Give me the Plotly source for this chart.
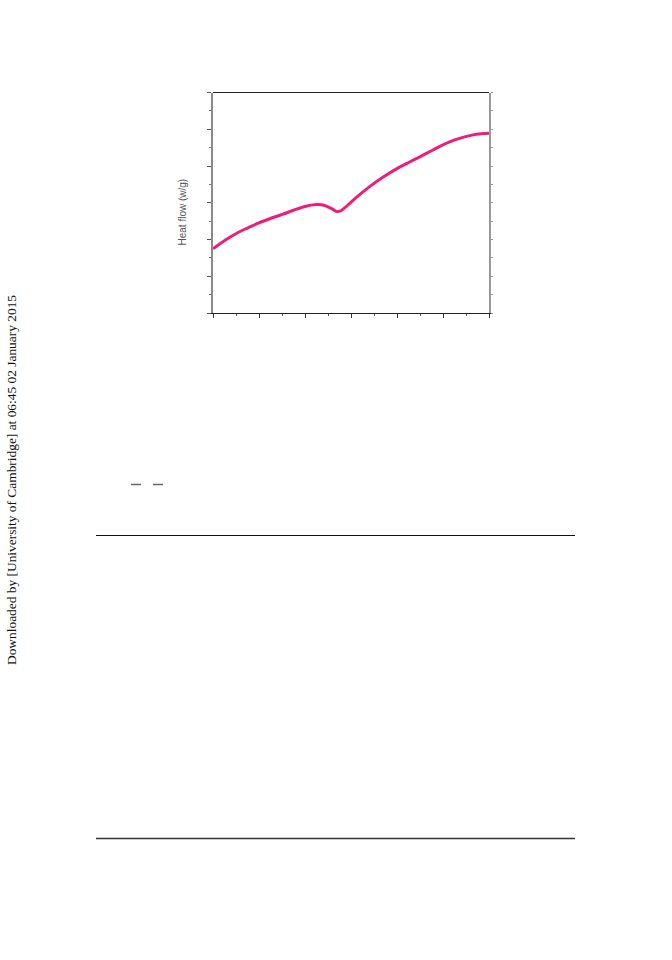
import plotly.graph_objects as go

# Data (arbitrary units, axes 0..6)
temperature = [0.0, 0.254, 0.507, 0.761, 1.0, 1.232, 1.507, 1.739, 2.0, 2.246, 2.355,
               2.464, 2.58, 2.68, 2.76, 2.86, 2.98, 3.15, 3.406, 3.7, 4.0, 4.275,
               4.507, 4.783, 5.0, 5.254, 5.493, 5.725, 6.0]
heat_flow = [1.745, 1.973, 2.164, 2.318, 2.455, 2.564, 2.682, 2.79, 2.9, 2.95, 2.945,
             2.91, 2.84, 2.765, 2.77, 2.86, 2.99, 3.18, 3.44, 3.70, 3.93, 4.109,
             4.255, 4.436, 4.573, 4.709, 4.8, 4.864, 4.89]

y_title = "Heat flow (w/g)"
side_note = "Downloaded by [University of Cambridge] at 06:45 02 January 2015"

W, H = 672, 960
x0, x1 = 213 / W, 489 / W
y0, y1 = 1 - 313 / H, 1 - 92.5 / H

fig = go.Figure()
fig.add_trace(go.Scatter(x=temperature, y=heat_flow, mode="lines",
                         line=dict(color="#EC1E7A", width=3, shape="spline", smoothing=1.0),
                         showlegend=False, hoverinfo="skip", cliponaxis=False))
# invisible trace to activate right-side axis
fig.add_trace(go.Scatter(x=[None], y=[None], yaxis="y2", showlegend=False, hoverinfo="skip"))

fig.update_layout(
    width=W, height=H,
    margin=dict(l=0, r=0, t=0, b=0),
    paper_bgcolor="white", plot_bgcolor="white",
    xaxis=dict(domain=[x0, x1], range=[0, 6], showline=True, linecolor="#222", linewidth=1,
               ticks="outside", ticklen=4, tickwidth=1, tickcolor="#333", dtick=1, tick0=0,
               minor=dict(ticks="outside", ticklen=2, dtick=0.5, tick0=0, tickcolor="#555"),
               showticklabels=False, showgrid=False, zeroline=False, fixedrange=True),
    yaxis=dict(domain=[y0, y1], range=[0, 6], showline=True, linecolor="#8a8a8a", linewidth=2,
               ticks="outside", ticklen=4, tickwidth=1, tickcolor="#555", dtick=1, tick0=0,
               minor=dict(ticks="outside", ticklen=2, dtick=0.5, tick0=0, tickcolor="#777"),
               showticklabels=False, showgrid=False, zeroline=False, fixedrange=True),
    yaxis2=dict(domain=[y0, y1], range=[0, 6], overlaying="y", side="right", anchor="x",
                showline=True, linecolor="#999", linewidth=1.5,
                ticks="outside", ticklen=2, tickwidth=1, tickcolor="#999", dtick=0.5, tick0=0,
                showticklabels=False, showgrid=False, zeroline=False, fixedrange=True),
    shapes=[
        dict(type="line", xref="paper", yref="paper", x0=x0, x1=x1, y0=y1, y1=y1,
             line=dict(color="#222", width=1)),
        dict(type="line", xref="paper", yref="paper", x0=131 / W, x1=141 / W,
             y0=1 - 484.5 / H, y1=1 - 484.5 / H, line=dict(color="#666", width=1.5)),
        dict(type="line", xref="paper", yref="paper", x0=153 / W, x1=163 / W,
             y0=1 - 484.5 / H, y1=1 - 484.5 / H, line=dict(color="#666", width=1.5)),
        dict(type="line", xref="paper", yref="paper", x0=96 / W, x1=575 / W,
             y0=1 - 535.5 / H, y1=1 - 535.5 / H, line=dict(color="#111", width=1)),
        dict(type="line", xref="paper", yref="paper", x0=96 / W, x1=575 / W,
             y0=1 - 838.5 / H, y1=1 - 838.5 / H, line=dict(color="#333", width=1.5)),
    ],
    annotations=[
        dict(text=y_title, xref="paper", yref="paper", x=181.5 / W, y=1 - 212 / H,
             textangle=-90, showarrow=False, xanchor="center", yanchor="middle",
             font=dict(family="Liberation Sans, Arial", size=10, color="#555")),
        dict(text=side_note, xref="paper", yref="paper", x=11 / W, y=1 - 480 / H,
             textangle=-90, showarrow=False, xanchor="center", yanchor="middle",
             font=dict(family="Liberation Serif, Times New Roman", size=13.4, color="#111")),
    ],
)

fig.write_html("out.html", config={"displayModeBar": False},
               post_script="document.body.style.margin='0';document.body.style.overflow='hidden';")
